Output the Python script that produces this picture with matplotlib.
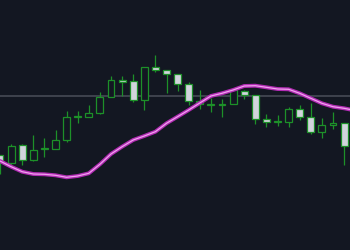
import numpy as np
import matplotlib
matplotlib.use('Agg')
import matplotlib.pyplot as plt

# candle data (arbitrary price units)
opens  = [95, 87, 105, 90, 101, 101, 110, 133, 133, 137, 153, 170, 169, 150, 183, 180,
          176, 166, 146, 145, 145, 146, 159, 155, 131, 128, 128, 141, 133, 118, 125, 127]
highs  = [95, 106, 106, 115, 112, 120, 139, 139, 145, 158, 174, 174, 176, 183, 195, 180,
          176, 168, 160, 152, 151, 162, 160, 155, 136, 135, 143, 145, 147, 132, 138, 127]
lows   = [76, 85, 85, 89, 93, 101, 108, 127, 133, 136, 153, 154, 148, 140, 178, 157,
          159, 145, 141, 138, 133, 146, 151, 126, 123, 124, 123, 130, 116, 112, 121, 85]
closes = [88, 104, 90, 100, 102, 110, 133, 133.5, 137, 153, 170, 168, 150, 183, 180, 176,
          166, 149, 149, 145.5, 145.5, 160, 155, 131, 128, 128.5, 141, 133, 118, 125, 127, 104]

# moving average line (one extra point runs past the right edge)
ma = [89, 83.3, 78.3, 76, 75.7, 74.7, 72.7, 74, 76.7, 85.7, 96, 103.3, 110, 114, 118.3, 126.7,
      133.3, 140, 147, 154, 156.7, 160, 164, 164.3, 162.7, 161, 160.7, 156.7, 151.7, 146.7,
      143.3, 141.7, 139.5]

ref_level = 154

bg = '#131722'
green = '#1d9029'
white = '#d1d4dc'

fig = plt.figure(figsize=(3.5, 2.5), dpi=100, facecolor=bg)
ax = fig.add_axes([0, 0, 1, 1])
ax.set_facecolor(bg)

x = np.arange(len(opens))
o = np.array(opens, dtype=float)
c = np.array(closes, dtype=float)

ax.axhline(ref_level, color='#4a4f5a', lw=1.1, zorder=1)

ax.vlines(x, lows, highs, color=green, lw=0.9, zorder=2)

up = c >= o
bottom = np.minimum(o, c)
height = np.maximum(np.abs(c - o), 0.6)
ax.bar(x[up], height[up], bottom=bottom[up], width=0.62, color=bg,
       edgecolor=green, linewidth=0.9, zorder=3)
ax.bar(x[~up], height[~up], bottom=bottom[~up], width=0.62, color=white,
       edgecolor=green, linewidth=0.9, zorder=3)

# glowing moving average
xm = np.arange(len(ma))
ax.plot(xm, ma, color='#b22cb4', lw=2.8, zorder=4, solid_capstyle='round')
ax.plot(xm, ma, color='#f0a2ee', lw=0.9, zorder=5, solid_capstyle='round')

ax.set_xlim(0, 350 / 11.1)
ax.set_ylim(0, 250)
ax.axis('off')

fig.savefig('out.png', dpi=100, facecolor=bg)
